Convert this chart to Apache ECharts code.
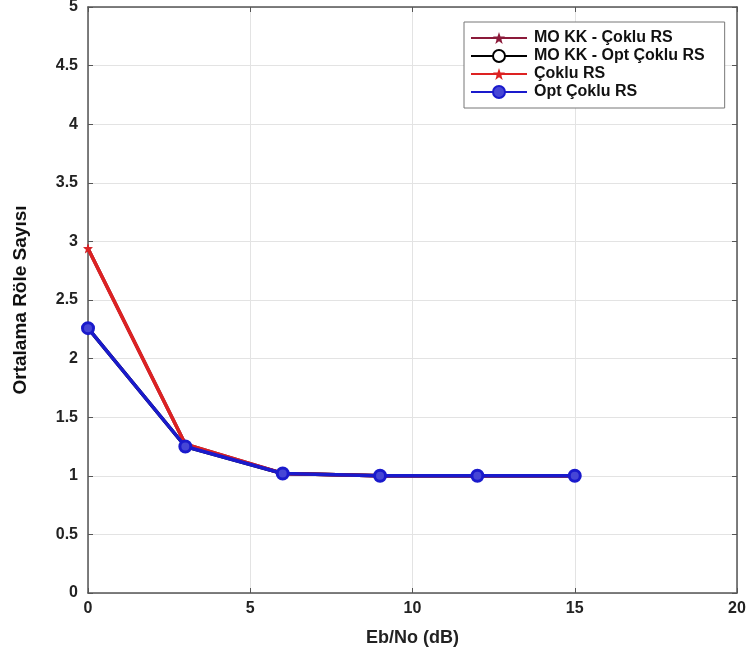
<!DOCTYPE html>
<html>
<head>
<meta charset="utf-8">
<script src="https://cdn.jsdelivr.net/npm/echarts@6/dist/echarts.min.js"></script>
<style>html,body{margin:0;padding:0;background:#fff}#c{width:746px;height:658px}</style>
</head>
<body>
<div id="c"></div>
<script>
const ebno = [0, 3, 6, 9, 12, 15];
const moKkCoklu = [2.94, 1.27, 1.02, 1.0, 1.0, 1.0];
const moKkOptCoklu = [2.26, 1.25, 1.02, 1.0, 1.0, 1.0];
const coklu = [2.94, 1.27, 1.02, 1.0, 1.0, 1.0];
const optCoklu = [2.26, 1.25, 1.02, 1.0, 1.0, 1.0];
const seriesNames = ['MO KK - Çoklu RS', 'MO KK - Opt Çoklu RS', 'Çoklu RS', 'Opt Çoklu RS'];

const star = 'path://M0,-1 L0.235,-0.324 L0.951,-0.309 L0.38,0.124 L0.588,0.809 L0,0.4 L-0.588,0.809 L-0.38,0.124 L-0.951,-0.309 L-0.235,-0.324 Z';
const pairs = a => ebno.map((x, i) => [x, a[i]]);
const font = 'Arial, "Liberation Sans", sans-serif';

const chart = echarts.init(document.getElementById('c'));
const axisCommon = {
  axisLine: {show: true, onZero: false, lineStyle: {color: '#555', width: 1.5}},
  axisTick: {show: true, inside: true, length: 5, lineStyle: {color: '#555'}},
};
chart.setOption({
  animation: false,
  grid: {left: 88, right: 9, top: 7, bottom: 65, show: false, outerBoundsMode: 'none', containLabel: false},
  legend: {
    data: seriesNames,
    orient: 'vertical',
    left: 464, top: 22,
    backgroundColor: '#fff',
    borderColor: '#777', borderWidth: 1,
    padding: [8, 20, 8, 6],
    itemGap: 2,
    itemWidth: 56, itemHeight: 15,
    textStyle: {fontFamily: font, fontWeight: 'bold', fontSize: 16, color: '#111', padding: [0, 0, 0, 2]}
  },
  xAxis: [{
    type: 'value', min: 0, max: 20, interval: 5,
    ...axisCommon,
    splitLine: {show: true, lineStyle: {color: '#e3e3e3'}},
    axisLabel: {fontFamily: font, fontWeight: 'bold', fontSize: 16, color: '#222', margin: 8},
    name: 'Eb/No (dB)', nameLocation: 'middle', nameGap: 36,
    nameTextStyle: {fontFamily: font, fontWeight: 'bold', fontSize: 18, color: '#222'}
  }, {
    type: 'value', min: 0, max: 20, interval: 5, position: 'top',
    ...axisCommon, axisLabel: {show: false}, splitLine: {show: false}
  }],
  yAxis: [{
    type: 'value', min: 0, max: 5, interval: 0.5,
    ...axisCommon,
    splitLine: {show: true, lineStyle: {color: '#e3e3e3'}},
    axisLabel: {fontFamily: font, fontWeight: 'bold', fontSize: 16, color: '#222', margin: 10},
    name: 'Ortalama Röle Sayısı', nameLocation: 'middle', nameGap: 58,
    nameTextStyle: {fontFamily: font, fontWeight: 'bold', fontSize: 19, color: '#111'}
  }, {
    type: 'value', min: 0, max: 5, interval: 0.5, position: 'right',
    ...axisCommon, axisLabel: {show: false}, splitLine: {show: false}
  }],
  series: [
    {name: seriesNames[0], type: 'line', data: pairs(moKkCoklu), symbol: star, symbolSize: 9,
     lineStyle: {color: '#8b1a3a', width: 3.5}, itemStyle: {color: '#8b1a3a'}},
    {name: seriesNames[1], type: 'line', data: pairs(moKkOptCoklu), symbol: 'circle', symbolSize: 9,
     showAllSymbol: true,
     lineStyle: {color: '#000', width: 3.5}, itemStyle: {color: '#fff', borderColor: '#000', borderWidth: 2.5}},
    {name: seriesNames[2], type: 'line', data: pairs(coklu), symbol: star, symbolSize: 10,
     lineStyle: {color: '#dd2222', width: 3.5}, itemStyle: {color: '#dd2222'}},
    {name: seriesNames[3], type: 'line', data: pairs(optCoklu), symbol: 'circle', symbolSize: 11,
     lineStyle: {color: '#1a1acc', width: 3.5}, itemStyle: {color: '#4646d6', borderColor: '#1a1acc', borderWidth: 3}}
  ]
});
</script>
</body>
</html>
